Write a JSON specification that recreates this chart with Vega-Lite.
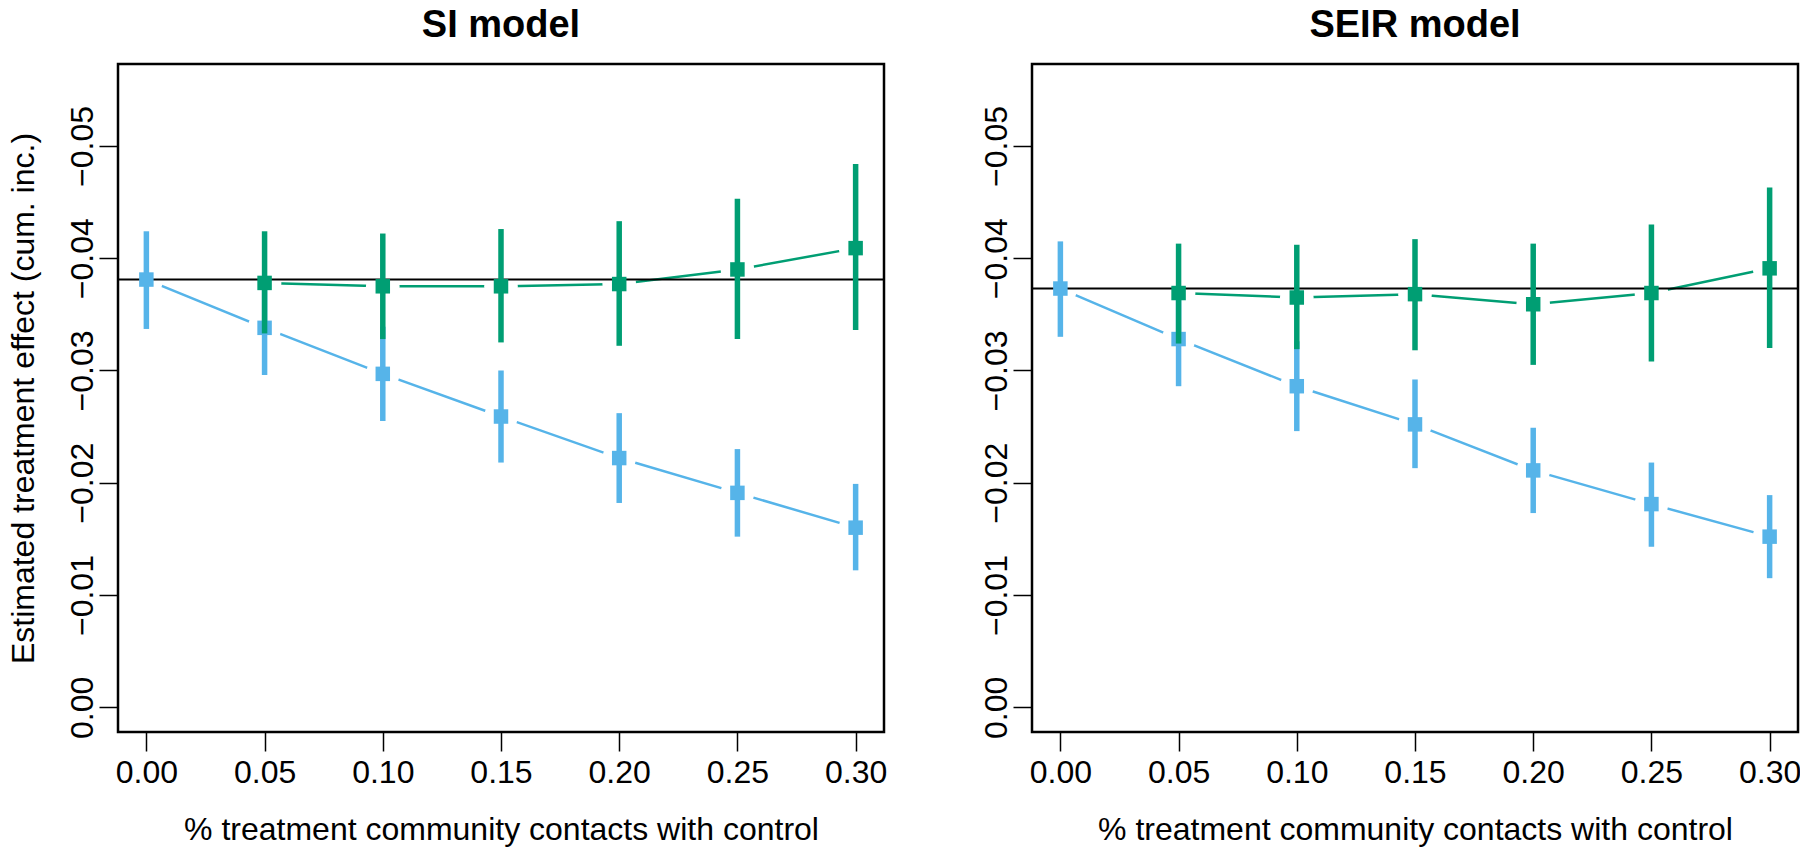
{
  "$schema": "https://vega.github.io/schema/vega-lite/v6.json",
  "background": "white",
  "padding": {"left": 5, "top": 5, "right": 0, "bottom": 0},
  "config": {
    "font": "Liberation Sans",
    "view": {"stroke": "black", "strokeWidth": 2.5},
    "axis": {
      "grid": false, "domain": false, "tickColor": "black", "tickWidth": 1.5, "tickSize": 19,
      "labelFontSize": 32, "labelColor": "black", "labelFont": "Liberation Sans",
      "titleFontSize": 32, "titleFontWeight": "normal", "titleColor": "black", "titleFont": "Liberation Sans"
    },
    "title": {"fontSize": 38, "fontWeight": "bold", "color": "black", "anchor": "middle", "baseline": "alphabetic", "offset": 19, "font": "Liberation Sans"},
    "concat": {"spacing": 89}
  },
  "datasets": {
    "pts": [
      {"panel": "SI", "group": "A", "x": 0.00, "est": -0.0381, "lo": -0.0424, "hi": -0.0337},
      {"panel": "SI", "group": "A", "x": 0.05, "est": -0.0338, "lo": -0.0380, "hi": -0.0296},
      {"panel": "SI", "group": "A", "x": 0.10, "est": -0.0297, "lo": -0.0339, "hi": -0.0255},
      {"panel": "SI", "group": "A", "x": 0.15, "est": -0.0259, "lo": -0.0300, "hi": -0.0218},
      {"panel": "SI", "group": "A", "x": 0.20, "est": -0.0222, "lo": -0.0262, "hi": -0.0182},
      {"panel": "SI", "group": "A", "x": 0.25, "est": -0.0191, "lo": -0.0230, "hi": -0.0152},
      {"panel": "SI", "group": "A", "x": 0.30, "est": -0.0160, "lo": -0.0199, "hi": -0.0122},
      {"panel": "SI", "group": "B", "x": 0.05, "est": -0.0378, "lo": -0.0424, "hi": -0.0333},
      {"panel": "SI", "group": "B", "x": 0.10, "est": -0.0375, "lo": -0.0422, "hi": -0.0328},
      {"panel": "SI", "group": "B", "x": 0.15, "est": -0.0375, "lo": -0.0426, "hi": -0.0325},
      {"panel": "SI", "group": "B", "x": 0.20, "est": -0.0377, "lo": -0.0433, "hi": -0.0322},
      {"panel": "SI", "group": "B", "x": 0.25, "est": -0.0390, "lo": -0.0453, "hi": -0.0328},
      {"panel": "SI", "group": "B", "x": 0.30, "est": -0.0409, "lo": -0.0484, "hi": -0.0336},
      {"panel": "SEIR", "group": "A", "x": 0.00, "est": -0.0373, "lo": -0.0415, "hi": -0.0330},
      {"panel": "SEIR", "group": "A", "x": 0.05, "est": -0.0328, "lo": -0.0370, "hi": -0.0286},
      {"panel": "SEIR", "group": "A", "x": 0.10, "est": -0.0286, "lo": -0.0326, "hi": -0.0246},
      {"panel": "SEIR", "group": "A", "x": 0.15, "est": -0.0252, "lo": -0.0292, "hi": -0.0213},
      {"panel": "SEIR", "group": "A", "x": 0.20, "est": -0.0211, "lo": -0.0249, "hi": -0.0173},
      {"panel": "SEIR", "group": "A", "x": 0.25, "est": -0.0181, "lo": -0.0218, "hi": -0.0143},
      {"panel": "SEIR", "group": "A", "x": 0.30, "est": -0.0152, "lo": -0.0189, "hi": -0.0115},
      {"panel": "SEIR", "group": "B", "x": 0.05, "est": -0.0369, "lo": -0.0413, "hi": -0.0324},
      {"panel": "SEIR", "group": "B", "x": 0.10, "est": -0.0365, "lo": -0.0412, "hi": -0.0319},
      {"panel": "SEIR", "group": "B", "x": 0.15, "est": -0.0368, "lo": -0.0417, "hi": -0.0318},
      {"panel": "SEIR", "group": "B", "x": 0.20, "est": -0.0359, "lo": -0.0413, "hi": -0.0305},
      {"panel": "SEIR", "group": "B", "x": 0.25, "est": -0.0369, "lo": -0.0430, "hi": -0.0308},
      {"panel": "SEIR", "group": "B", "x": 0.30, "est": -0.0391, "lo": -0.0463, "hi": -0.0320}
    ],
    "refs": [
      {"panel": "SI", "ref": -0.0381},
      {"panel": "SEIR", "ref": -0.0373}
    ]
  },
  "hconcat": [
    {
      "title": "SI model",
      "width": 766,
      "height": 668,
      "data": {"name": "pts"},
      "transform": [{"filter": "datum.panel === 'SI'"}],
      "encoding": {
        "x": {"field": "x", "type": "quantitative", "title": "% treatment community contacts with control",
              "scale": {"domain": [-0.012, 0.312], "nice": false, "zero": false},
              "axis": {"values": [0, 0.05, 0.1, 0.15, 0.2, 0.25, 0.3], "format": ".2f", "labelPadding": 6, "titlePadding": 26}},
        "y": {"field": "est", "type": "quantitative", "title": "Estimated treatment effect (cum. inc.)",
              "scale": {"domain": [-0.0573, 0.0022], "reverse": true, "nice": false, "zero": false},
              "axis": {"values": [0, -0.01, -0.02, -0.03, -0.04, -0.05], "format": ".2f", "labelAngle": -90, "labelAlign": "center", "labelBaseline": "bottom", "labelPadding": 0, "titlePadding": 26, "titleAngle": -90, "titleBaseline": "bottom"}},
        "color": {"field": "group", "type": "nominal", "scale": {"domain": ["A", "B"], "range": ["#56B4E9", "#009E73"]}, "legend": null}
      },
      "layer": [
        {"mark": {"type": "line", "strokeWidth": 2.5}, "encoding": {"detail": {"field": "group"}}},
        {"mark": {"type": "point", "shape": "circle", "filled": true, "size": 1130, "opacity": 1, "strokeWidth": 0, "color": "white"}, "encoding": {"color": {"value": "white"}}},
        {"data": {"name": "refs"}, "transform": [{"filter": "datum.panel === 'SI'"}],
         "mark": {"type": "rule", "color": "black", "strokeWidth": 2},
         "encoding": {"x": null, "color": {"value": "black"}, "y": {"field": "ref", "type": "quantitative", "title": "Estimated treatment effect (cum. inc.)"}}},
        {"transform": [{"filter": "datum.group === 'A'"}], "mark": {"type": "rule", "strokeWidth": 5.5}, "encoding": {"y": {"field": "lo", "type": "quantitative", "title": "Estimated treatment effect (cum. inc.)"}, "y2": {"field": "hi"}}},
        {"transform": [{"filter": "datum.group === 'A'"}], "mark": {"type": "point", "shape": "square", "filled": true, "size": 210, "opacity": 1, "strokeWidth": 0}},
        {"transform": [{"filter": "datum.group === 'B'"}], "mark": {"type": "rule", "strokeWidth": 5.5}, "encoding": {"y": {"field": "lo", "type": "quantitative", "title": "Estimated treatment effect (cum. inc.)"}, "y2": {"field": "hi"}}},
        {"transform": [{"filter": "datum.group === 'B'"}], "mark": {"type": "point", "shape": "square", "filled": true, "size": 210, "opacity": 1, "strokeWidth": 0}}
      ]
    },
    {
      "title": "SEIR model",
      "width": 766,
      "height": 668,
      "data": {"name": "pts"},
      "transform": [{"filter": "datum.panel === 'SEIR'"}],
      "encoding": {
        "x": {"field": "x", "type": "quantitative", "title": "% treatment community contacts with control",
              "scale": {"domain": [-0.012, 0.312], "nice": false, "zero": false},
              "axis": {"values": [0, 0.05, 0.1, 0.15, 0.2, 0.25, 0.3], "format": ".2f", "labelPadding": 6, "titlePadding": 26}},
        "y": {"field": "est", "type": "quantitative", "title": null,
              "scale": {"domain": [-0.0573, 0.0022], "reverse": true, "nice": false, "zero": false},
              "axis": {"values": [0, -0.01, -0.02, -0.03, -0.04, -0.05], "format": ".2f", "labelAngle": -90, "labelAlign": "center", "labelBaseline": "bottom", "labelPadding": 0, "title": null}},
        "color": {"field": "group", "type": "nominal", "scale": {"domain": ["A", "B"], "range": ["#56B4E9", "#009E73"]}, "legend": null}
      },
      "layer": [
        {"mark": {"type": "line", "strokeWidth": 2.5}, "encoding": {"detail": {"field": "group"}}},
        {"mark": {"type": "point", "shape": "circle", "filled": true, "size": 1130, "opacity": 1, "strokeWidth": 0, "color": "white"}, "encoding": {"color": {"value": "white"}}},
        {"data": {"name": "refs"}, "transform": [{"filter": "datum.panel === 'SEIR'"}],
         "mark": {"type": "rule", "color": "black", "strokeWidth": 2},
         "encoding": {"x": null, "color": {"value": "black"}, "y": {"field": "ref", "type": "quantitative", "title": null}}},
        {"transform": [{"filter": "datum.group === 'A'"}], "mark": {"type": "rule", "strokeWidth": 5.5}, "encoding": {"y": {"field": "lo", "type": "quantitative", "title": null}, "y2": {"field": "hi"}}},
        {"transform": [{"filter": "datum.group === 'A'"}], "mark": {"type": "point", "shape": "square", "filled": true, "size": 210, "opacity": 1, "strokeWidth": 0}},
        {"transform": [{"filter": "datum.group === 'B'"}], "mark": {"type": "rule", "strokeWidth": 5.5}, "encoding": {"y": {"field": "lo", "type": "quantitative", "title": null}, "y2": {"field": "hi"}}},
        {"transform": [{"filter": "datum.group === 'B'"}], "mark": {"type": "point", "shape": "square", "filled": true, "size": 210, "opacity": 1, "strokeWidth": 0}}
      ]
    }
  ]
}
